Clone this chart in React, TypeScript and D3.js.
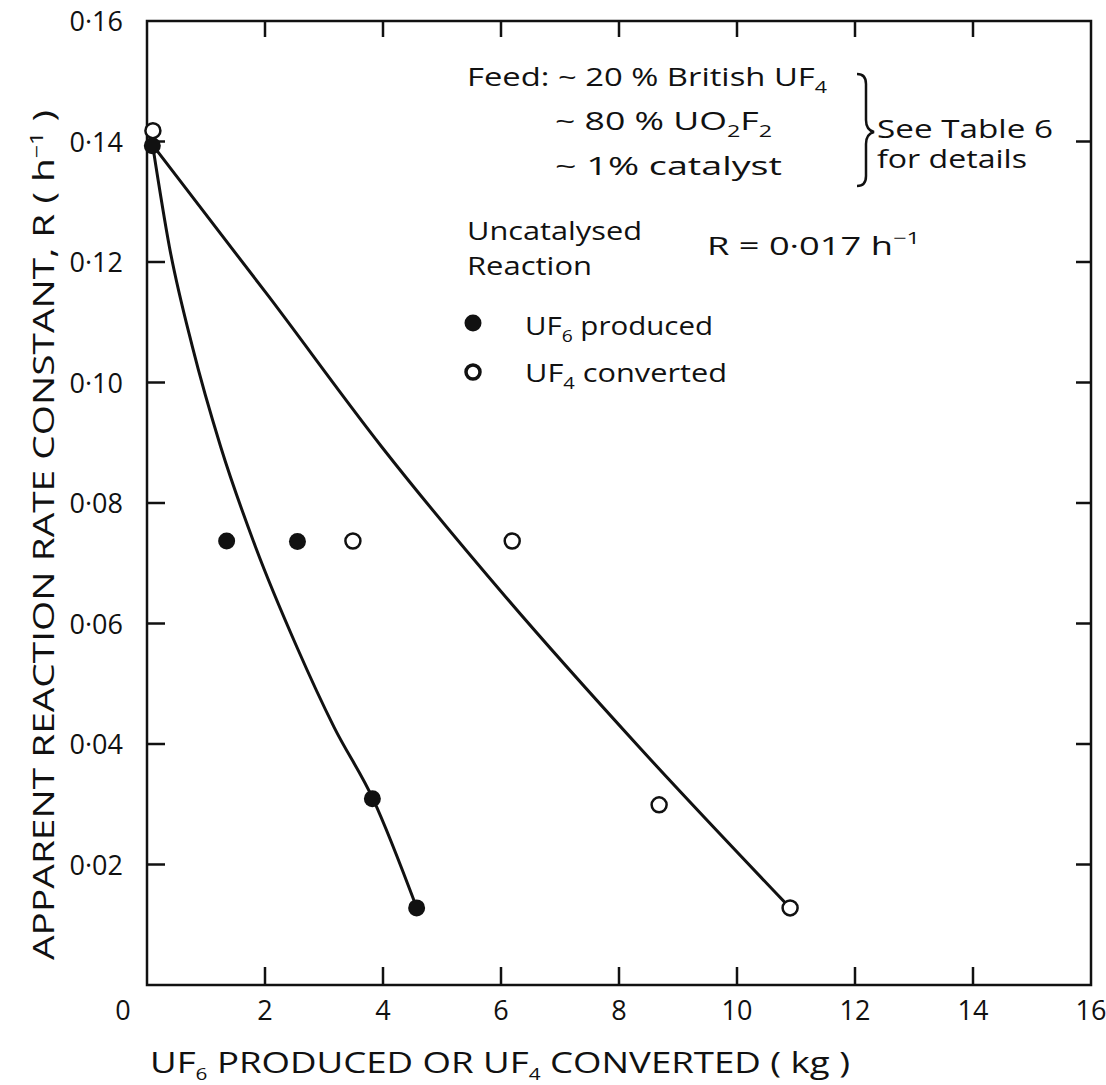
import * as d3 from "d3";

// Reading values off the plot
const producedX = [0.09, 1.35, 2.55, 3.82, 4.57];
const producedY = [0.1393, 0.0737, 0.0736, 0.0309, 0.0128];
const convertedX = [0.1, 3.49, 6.19, 8.68, 10.9];
const convertedY = [0.1418, 0.0737, 0.0737, 0.0299, 0.0128];

// Hand-drawn fitted curves
const producedCurveX = [0.1, 0.38, 0.77, 1.25, 1.84, 2.54, 3.17, 3.83, 4.58];
const producedCurveY = [0.1391, 0.1225, 0.1059, 0.0893, 0.0727, 0.0561, 0.0428, 0.0309, 0.0126];
const convertedCurveX = [0.12, 2.07, 3.98, 6.08, 8.34, 10.9];
const convertedCurveY = [0.1391, 0.1142, 0.0893, 0.0644, 0.0395, 0.0128];

const xTicks = [2, 4, 6, 8, 10, 12, 14, 16];
const yTicks = [0.02, 0.04, 0.06, 0.08, 0.1, 0.12, 0.14, 0.16];
const yTickLabels = ["0·02", "0·04", "0·06", "0·08", "0·10", "0·12", "0·14", "0·16"];

const W = 1106;
const H = 1085;
const font = "'Open Sans', sans-serif";
const ink = "#111";

export default function App() {
  const x = d3.scaleLinear().domain([0, 16]).range([147, 1091]);
  const y = d3.scaleLinear().domain([0, 0.16]).range([985, 21]);
  const [x0, x1] = x.range();
  const [y0, y1] = y.range();

  const line = d3
    .line<[number, number]>()
    .x((d) => x(d[0]))
    .y((d) => y(d[1]))
    .curve(d3.curveMonotoneX);

  const producedCurve = producedCurveX.map((v, i) => [v, producedCurveY[i]] as [number, number]);
  const convertedCurve = convertedCurveX.map((v, i) => [v, convertedCurveY[i]] as [number, number]);

  const txt = { fontFamily: font, fill: ink, fontSize: 26 } as const;
  const fit = { lengthAdjust: "spacingAndGlyphs" } as const;
  const sub = (s: string) => (
    <>
      <tspan fontSize={17} dy={7}>{s}</tspan>
      <tspan dy={-7}>{"\u200b"}</tspan>
    </>
  );

  return (
    <svg width={W} height={H} style={{ position: "absolute", left: 0, top: 0, background: "#fff" }}>
      {/* frame */}
      <rect x={x0} y={y1} width={x1 - x0} height={y0 - y1} fill="none" stroke={ink} strokeWidth={2.5} />

      {/* ticks, all inward */}
      {xTicks.slice(0, -1).map((t) => (
        <g key={"xt" + t}>
          <line x1={x(t)} x2={x(t)} y1={y0} y2={y0 - 18} stroke={ink} strokeWidth={2.5} />
          <line x1={x(t)} x2={x(t)} y1={y1} y2={y1 + 16} stroke={ink} strokeWidth={2.5} />
        </g>
      ))}
      {yTicks.slice(0, -1).map((t) => (
        <g key={"yt" + t}>
          <line x1={x0} x2={x0 + 18} y1={y(t)} y2={y(t)} stroke={ink} strokeWidth={2.5} />
          <line x1={x1} x2={x1 - 15} y1={y(t)} y2={y(t)} stroke={ink} strokeWidth={2.5} />
        </g>
      ))}

      {/* tick labels */}
      <text {...txt} fontSize={27} x={x(0) - 24} y={y0 + 35} textAnchor="middle">0</text>
      {xTicks.map((t) => (
        <text key={"xl" + t} {...txt} fontSize={27} x={x(t)} y={y0 + 35} textAnchor="middle">
          {t}
        </text>
      ))}
      {yTicks.map((t, i) => (
        <text key={"yl" + t} {...txt} fontSize={27} x={x0 - 24} y={y(t) + 10} textAnchor="end">
          {yTickLabels[i]}
        </text>
      ))}

      {/* axis titles */}
      <text {...txt} fontSize={30} x={150} y={1073} textLength={700} {...fit}>
        UF{sub("6")} PRODUCED OR UF{sub("4")} CONVERTED ( kg )
      </text>
      <text {...txt} fontSize={30} transform="translate(54,960) rotate(-90)" x={0} y={0} textLength={850} {...fit}>
        APPARENT REACTION RATE CONSTANT, R ( h
        <tspan fontSize={18} dy={-11}>−1</tspan>
        <tspan dy={11}> )</tspan>
      </text>

      {/* curves */}
      <path d={line(producedCurve) ?? ""} fill="none" stroke={ink} strokeWidth={3} />
      <path d={line(convertedCurve) ?? ""} fill="none" stroke={ink} strokeWidth={3} />

      {/* points */}
      {convertedX.map((v, i) => (
        <circle key={"c" + i} cx={x(v)} cy={y(convertedY[i])} r={7.5} fill="#fff" stroke={ink} strokeWidth={2.5} />
      ))}
      {producedX.map((v, i) => (
        <circle key={"p" + i} cx={x(v)} cy={y(producedY[i])} r={8.5} fill={ink} />
      ))}

      {/* annotation block */}
      <text {...txt} x={467} y={86} textLength={360} {...fit}>
        Feed: ~ 20 % British UF{sub("4")}
      </text>
      <text {...txt} x={555} y={130} textLength={217} {...fit}>
        ~ 80 % UO{sub("2")}F{sub("2")}
      </text>
      <text {...txt} x={555} y={175} textLength={227} {...fit}>
        ~ 1% catalyst
      </text>
      <path
        d="M857,74 Q866,74 866,84 L866,120 Q866,130 874,132 Q866,134 866,144 L866,176 Q866,186 857,186"
        fill="none"
        stroke={ink}
        strokeWidth={2.5}
      />
      <text {...txt} x={877} y={138} textLength={176} {...fit}>
        See Table 6
      </text>
      <text {...txt} x={877} y={168} textLength={150} {...fit}>
        for details
      </text>

      <text {...txt} x={467} y={240} textLength={175} {...fit}>
        Uncatalysed
      </text>
      <text {...txt} x={467} y={275} textLength={125} {...fit}>
        Reaction
      </text>
      <text {...txt} x={707} y={255} textLength={213} {...fit}>
        R = 0·017 h<tspan fontSize={17} dy={-11}>−1</tspan>
      </text>

      <circle cx={473} cy={323} r={8.5} fill={ink} />
      <circle cx={473} cy={372} r={7} fill="#fff" stroke={ink} strokeWidth={3.5} />
      <text {...txt} x={525} y={335} textLength={188} {...fit}>
        UF{sub("6")} produced
      </text>
      <text {...txt} x={525} y={382} textLength={202} {...fit}>
        UF{sub("4")} converted
      </text>
    </svg>
  );
}
